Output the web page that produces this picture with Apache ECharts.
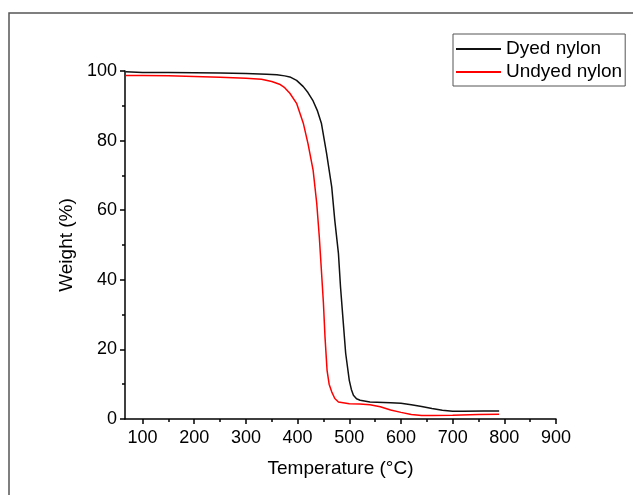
<!DOCTYPE html>
<html>
<head>
<meta charset="utf-8">
<script src="https://cdn.jsdelivr.net/npm/echarts@6/dist/echarts.min.js"></script>
<style>
  html, body { margin: 0; padding: 0; background: #fff; }
  #main { width: 633px; height: 495px; }
</style>
</head>
<body>
<div id="main"></div>
<script>
// temperature (°C) / weight (%)
var dyedT = [67, 100, 150, 200, 250, 300, 340, 360, 375, 385, 398, 411, 420, 430, 438, 446, 456, 466, 472, 479, 483, 488, 493, 500, 504, 508, 514, 521, 540, 580, 600, 620, 640, 660, 680, 700, 720, 760, 790];
var dyedW = [99.8, 99.6, 99.6, 99.5, 99.4, 99.3, 99.1, 98.9, 98.6, 98.3, 97.3, 95.5, 93.8, 91.4, 88.7, 85.0, 76.4, 66.7, 57.0, 47.6, 38.0, 28.4, 18.9, 11.1, 8.5, 6.8, 5.8, 5.4, 4.9, 4.7, 4.5, 4.1, 3.6, 3.0, 2.5, 2.2, 2.2, 2.3, 2.3];

var undyedT = [67, 100, 150, 200, 250, 300, 330, 350, 365, 375, 385, 398, 411, 420, 430, 437, 442, 446, 450, 453, 457, 461, 466, 472, 479, 500, 520, 540, 560, 580, 600, 620, 640, 660, 700, 750, 790];
var undyedW = [98.7, 98.7, 98.6, 98.4, 98.2, 97.9, 97.6, 97.0, 96.2, 95.2, 93.6, 90.7, 85.0, 79.2, 71.5, 62.0, 52.3, 42.8, 33.2, 23.6, 14.0, 10.0, 7.8, 5.9, 4.9, 4.4, 4.3, 4.1, 3.5, 2.6, 1.9, 1.3, 1.0, 1.0, 1.1, 1.3, 1.4];

var xTicks = [100, 200, 300, 400, 500, 600, 700, 800, 900];
var xMinorTicks = [150, 250, 350, 450, 550, 650, 750, 850];

function pairs(xs, ys) {
  return xs.map(function (x, i) { return [x, ys[i]]; });
}

var font = "'Liberation Sans', Arial, sans-serif";
var chart = echarts.init(document.getElementById('main'));

var option = {
  animation: false,
  backgroundColor: '#fff',
  textStyle: { fontFamily: font },
  grid: { left: 125, right: 77, top: 71, bottom: 76 },
  // outer frame of the figure
  graphic: [{
    type: 'rect',
    shape: { x: 9, y: 13, width: 700, height: 600 },
    style: { fill: 'none', stroke: '#555', lineWidth: 1.5 },
    silent: true
  }],
  legend: {
    orient: 'vertical',
    left: 453,
    top: 34,
    itemWidth: 45,
    itemHeight: 14,
    itemGap: 1,
    padding: [4, 3, 3, 2],
    borderColor: '#555',
    borderWidth: 1,
    // hide the dot that echarts puts in the middle of the line icon
    itemStyle: { color: 'transparent', borderWidth: 0, opacity: 0 },
    textStyle: { fontSize: 19, color: '#000', fontFamily: font, lineHeight: 22 },
    data: ['Dyed nylon', 'Undyed nylon']
  },
  xAxis: [
    {
      type: 'value',
      min: 66,
      max: 900,
      name: 'Temperature (°C)',
      nameLocation: 'middle',
      nameGap: 40,
      nameTextStyle: { fontSize: 19, color: '#000', fontFamily: font },
      axisLine: { lineStyle: { color: '#000', width: 1.5 } },
      axisTick: { customValues: xTicks, length: 5, lineStyle: { color: '#000', width: 1.5 } },
      axisLabel: { customValues: xTicks, fontSize: 18, color: '#000', margin: 10, fontFamily: font },
      splitLine: { show: false }
    },
    {
      type: 'value',
      min: 66,
      max: 900,
      position: 'bottom',
      axisLine: { show: false },
      axisTick: { customValues: xMinorTicks, length: 3, lineStyle: { color: '#000', width: 1.5 } },
      axisLabel: { show: false },
      splitLine: { show: false }
    }
  ],
  yAxis: {
    type: 'value',
    min: 0,
    max: 100,
    interval: 20,
    name: 'Weight (%)',
    nameLocation: 'middle',
    nameGap: 45,
    nameTextStyle: { fontSize: 19, color: '#000', fontFamily: font },
    axisLine: { show: true, lineStyle: { color: '#000', width: 1.5 } },
    axisTick: { show: true, length: 5, lineStyle: { color: '#000', width: 1.5 } },
    minorTick: { show: true, splitNumber: 2, length: 3, lineStyle: { color: '#000', width: 1.5 } },
    axisLabel: { fontSize: 18, color: '#000', margin: 8, fontFamily: font },
    splitLine: { show: false }
  },
  series: [
    {
      name: 'Undyed nylon',
      type: 'line',
      symbol: 'none',
      data: pairs(undyedT, undyedW),
      lineStyle: { color: '#ff0000', width: 1.5 },
      itemStyle: { color: '#ff0000' }
    },
    {
      name: 'Dyed nylon',
      type: 'line',
      symbol: 'none',
      data: pairs(dyedT, dyedW),
      lineStyle: { color: '#111', width: 1.5 },
      itemStyle: { color: '#111' }
    }
  ]
};

chart.setOption(option);
</script>
</body>
</html>
